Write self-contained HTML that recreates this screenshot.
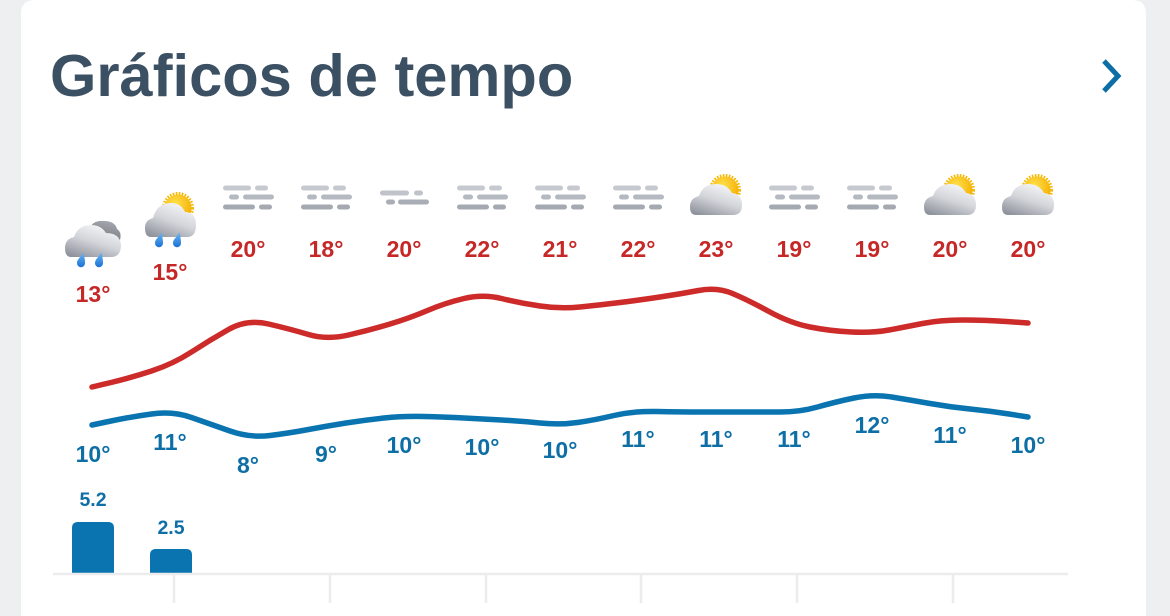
<!DOCTYPE html>
<html>
<head>
<meta charset="utf-8">
<style>
html,body{margin:0;padding:0;background:#eeeff1;width:1170px;height:616px;overflow:hidden;}
svg{display:block;}
text{font-family:"Liberation Sans",Arial,sans-serif;font-weight:bold;}
</style>
</head>
<body>
<svg width="1170" height="616" viewBox="0 0 1170 616" xmlns="http://www.w3.org/2000/svg" style="overflow:hidden">
<defs>
  <linearGradient id="cg" x1="0.75" y1="0" x2="0.2" y2="1">
    <stop offset="0" stop-color="#f7f8fa"/>
    <stop offset="0.5" stop-color="#d3d5da"/>
    <stop offset="1" stop-color="#8f939c"/>
  </linearGradient>
  <linearGradient id="dg" x1="0.7" y1="0" x2="0.3" y2="1">
    <stop offset="0" stop-color="#a4a7ad"/>
    <stop offset="1" stop-color="#6f727a"/>
  </linearGradient>
  <radialGradient id="sg" cx="0.4" cy="0.35" r="0.7">
    <stop offset="0" stop-color="#ffe24d"/>
    <stop offset="1" stop-color="#f4ac00"/>
  </radialGradient>
  <linearGradient id="rg" x1="0" y1="0" x2="0" y2="1">
    <stop offset="0" stop-color="#6cb8f5"/>
    <stop offset="1" stop-color="#1c72d4"/>
  </linearGradient>
  <g id="sun">
    <circle r="14.5" fill="none" stroke="#f5b700" stroke-width="3" stroke-dasharray="1.6 1.4"/>
    <circle r="13.5" fill="url(#sg)"/>
  </g>
  <path id="drop" d="M2.5,-8 C1,-4 -4,-1 -4,3 A4,4 0 0 0 4,3.5 C4.2,-0.5 3,-4 2.5,-8 Z" fill="url(#rg)"/>
  <g id="pc">
    <use href="#sun" x="9" y="190"/>
    <path d="M-20,215 Q-26,215 -26,207 Q-26,198 -17,196 Q-13,184 0,184 Q11,184 16,193 Q26,194 26,205 Q26,215 17,215 Z" fill="url(#cg)"/>
  </g>
  <g id="fog">
    <g stroke-linecap="round" stroke-width="5" fill="none">
      <path d="M-22.5,188 H0.5 M9.5,188 H17.5" stroke="#c6c9cf"/>
      <path d="M-16.5,197 H-11.5 M-2.5,197 H23.5" stroke="#b5b9c1"/>
      <path d="M-22.5,207 H4.5 M13.5,207 H21.5" stroke="#a5a9b2"/>
    </g>
  </g>
  <g id="lfog">
    <g stroke-linecap="round" stroke-width="5" fill="none">
      <path d="M-21.5,193 H2.5 M12.5,193 H16.5" stroke="#c0c3ca"/>
      <path d="M-15.5,202 H-11.5 M-3.5,202 H22.5" stroke="#a9adb6"/>
    </g>
  </g>
</defs>

<!-- card -->
<path d="M21,616 V14 Q21,0 35,0 H1132 Q1146,0 1146,14 V616 Z" fill="#ffffff"/>

<!-- title -->
<text x="50" y="96" font-size="59.6" fill="#3c5064">Gráficos de tempo</text>
<path d="M1104,61 L1118,76 L1104,91" fill="none" stroke="#0b6fa6" stroke-width="5" stroke-linecap="butt" stroke-linejoin="miter"/>

<!-- icons -->
<!-- col0 rain -->
<g transform="translate(93,0)">
  <path d="M-12,243 Q-14,232 -4,229 Q0,220 11,221 Q22,221 24,229 Q29,232 27,240 Q24,243 18,243 Z" fill="url(#dg)"/>
  <path d="M-22,257 Q-28,257 -28,248 Q-28,239 -19,237 Q-15,225 -2,225 Q8,225 13,233 Q27,233 28,245 Q28,257 18,257 Z" fill="url(#cg)"/>
  <use href="#drop" x="-12" y="260"/>
  <use href="#drop" x="6" y="260"/>
</g>
<!-- col1 rain sun -->
<g transform="translate(170,0)">
  <use href="#sun" x="8" y="208"/>
  <path d="M-19,237 Q-25,237 -25,228 Q-25,220 -17,218 Q-13,203 1,203 Q11,203 15,212 Q26,212 26,225 Q26,237 17,237 Z" fill="url(#cg)"/>
  <use href="#drop" x="-11" y="240"/>
  <use href="#drop" x="7" y="240"/>
</g>
<use href="#fog" x="248"/>
<use href="#fog" x="326"/>
<use href="#lfog" x="404"/>
<use href="#fog" x="482"/>
<use href="#fog" x="560"/>
<use href="#fog" x="638"/>
<use href="#pc" x="716"/>
<use href="#fog" x="794"/>
<use href="#fog" x="872"/>
<use href="#pc" x="950"/>
<use href="#pc" x="1028"/>

<!-- max temps -->
<g font-size="23" fill="#c62828" text-anchor="middle">
  <text x="93" y="302">13°</text>
  <text x="170" y="280">15°</text>
  <text x="248" y="257">20°</text>
  <text x="326" y="257">18°</text>
  <text x="404" y="257">20°</text>
  <text x="482" y="257">22°</text>
  <text x="560" y="257">21°</text>
  <text x="638" y="257">22°</text>
  <text x="716" y="257">23°</text>
  <text x="794" y="257">19°</text>
  <text x="872" y="257">19°</text>
  <text x="950" y="257">20°</text>
  <text x="1028" y="257">20°</text>
</g>

<!-- lines -->
<path d="M92,387 L111,382.5 Q130,378 151.5,371 Q173,364 191.5,352 Q210,340 228.5,329.5 Q247,319 268.5,324 Q290,329 308.5,334.5 Q327,340 348.5,335 Q370,330 390,324 Q410,318 427.5,310.5 Q445,303 464,298.5 Q483,294 501.5,298.5 Q520,303 540,306 Q560,309 580,307 Q600,305 620,302.5 Q640,300 660,297 Q680,294 698.5,290.5 Q717,287 732.5,293.5 Q748,300 769,311.5 Q790,323 810,327 Q830,331 851.5,332 Q873,333 889,330 Q905,327 922.5,323.5 Q940,320 962.5,320 Q985,320 1006.5,321.5 L1028,323" fill="none" stroke="#cd2a2a" stroke-width="5.5" stroke-linecap="round" stroke-linejoin="round"/>
<path d="M92,425 L111,421 Q130,417 151.5,414 Q173,411 191.5,417.5 Q210,424 230,431 Q250,438 270,435.5 Q290,433 308.5,429.5 Q327,426 346,423 Q365,420 384,418 Q403,416 424,416.5 Q445,417 464,418 Q483,419 501.5,420 Q520,421 540,423 Q560,425 577.5,422.5 Q595,420 614,415.5 Q633,411 656.5,411.5 Q680,412 701.5,412 Q723,412 741.5,412 Q760,412 780,412 Q800,412 817.5,407 Q835,402 854,398 Q873,394 891.5,397 Q910,400 930,403.5 Q950,407 970,409 Q990,411 1009,414 L1028,417" fill="none" stroke="#0a74b0" stroke-width="5.5" stroke-linecap="round" stroke-linejoin="round"/>

<!-- min temps -->
<g font-size="23" fill="#0d6fa6" text-anchor="middle">
  <text x="93" y="462">10°</text>
  <text x="170" y="450">11°</text>
  <text x="248" y="473">8°</text>
  <text x="326" y="462">9°</text>
  <text x="404" y="453">10°</text>
  <text x="482" y="455">10°</text>
  <text x="560" y="458">10°</text>
  <text x="638" y="447">11°</text>
  <text x="716" y="447">11°</text>
  <text x="794" y="447">11°</text>
  <text x="872" y="433">12°</text>
  <text x="950" y="443">11°</text>
  <text x="1028" y="453">10°</text>
</g>

<!-- precipitation bars -->
<path d="M72,574 V528 Q72,522 78,522 H108 Q114,522 114,528 V574 Z" fill="#0a74b0"/>
<path d="M150,574 V555 Q150,549 156,549 H186 Q192,549 192,555 V574 Z" fill="#0a74b0"/>
<g font-size="19.5" fill="#0d6fa6" text-anchor="middle">
  <text x="93" y="506">5.2</text>
  <text x="171" y="534">2.5</text>
</g>

<!-- axis -->
<g stroke="#ececee" stroke-width="2.5">
  <line x1="53" y1="574" x2="1068" y2="574"/>
  <line x1="174" y1="574" x2="174" y2="603"/>
  <line x1="330" y1="574" x2="330" y2="603"/>
  <line x1="486" y1="574" x2="486" y2="603"/>
  <line x1="641" y1="574" x2="641" y2="603"/>
  <line x1="797" y1="574" x2="797" y2="603"/>
  <line x1="953" y1="574" x2="953" y2="603"/>
</g>
</svg>
</body>
</html>
